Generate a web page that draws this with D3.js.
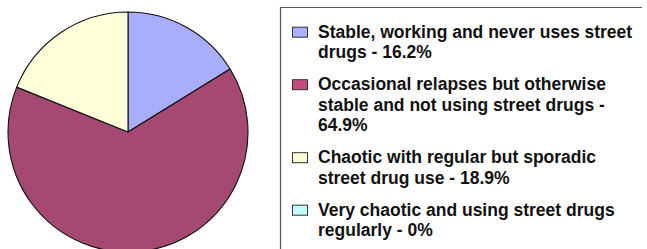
<!DOCTYPE html>
<html>
<head>
<meta charset="utf-8">
<script src="https://cdn.jsdelivr.net/npm/d3@7"></script>
<style>
  body { margin: 0; background: #fff; }
  svg { display: block; }
</style>
</head>
<body>
<div id="container"></div>
<script>
// data
const categories = [
  "Stable, working and never uses street drugs",
  "Occasional relapses but otherwise stable and not using street drugs",
  "Chaotic with regular but sporadic street drug use",
  "Very chaotic and using street drugs regularly"
];
const values = [16.2, 64.9, 18.9, 0];
const legendLines = [
  ["Stable, working and never uses street", "drugs - 16.2%"],
  ["Occasional relapses but otherwise", "stable and not using street drugs -", "64.9%"],
  ["Chaotic with regular but sporadic", "street drug use - 18.9%"],
  ["Very chaotic and using street drugs", "regularly - 0%"]
];
const pieColors = ["#a8aefd", "#a54973", "#ffffd8", "#c4ffff"];
const swatchColors = ["#aab1fe", "#c64a7c", "#fffdd6", "#c4ffff"];

const width = 647, height = 249;

const svg = d3.select("#container")
  .append("svg")
  .attr("width", width)
  .attr("height", height);

// pie
const cx = 128, cy = 132, r = 120;
const pie = d3.pie().sort(null).value(d => d);
const arc = d3.arc().innerRadius(0).outerRadius(r);

svg.append("g")
  .attr("transform", `translate(${cx},${cy})`)
  .selectAll("path")
  .data(pie(values).filter(d => d.value > 0))
  .join("path")
  .attr("d", arc)
  .attr("fill", d => pieColors[d.index])
  .attr("stroke", "#111")
  .attr("stroke-width", 1.1)
  .attr("stroke-linejoin", "round");

// legend box: only top and left edges are in the picture
svg.append("path")
  .attr("d", "M642,7.5H280.5V260")
  .attr("fill", "none")
  .attr("stroke", "#555")
  .attr("stroke-width", 1.2);

const lineH = 20.5, itemGap = 11.5;
let y = 37.7;
const leg = svg.append("g").attr("class", "legend");
legendLines.forEach((lines, i) => {
  const g = leg.append("g");
  g.append("rect")
    .attr("x", 292.5)
    .attr("y", y - 10.5)
    .attr("width", 15)
    .attr("height", 10)
    .attr("fill", swatchColors[i])
    .attr("stroke", "#333")
    .attr("stroke-width", 1);
  const t = g.append("text")
    .attr("x", 318)
    .attr("y", y)
    .style("font-family", "'Liberation Sans', Arial, sans-serif")
    .style("font-weight", "bold")
    .style("font-size", "17.5px")
    .attr("fill", "#111");
  lines.forEach((ln, j) => {
    t.append("tspan")
      .attr("x", 318)
      .attr("dy", j === 0 ? 0 : lineH)
      .text(ln);
  });
  y += lines.length * lineH + itemGap;
});
</script>
</body>
</html>
